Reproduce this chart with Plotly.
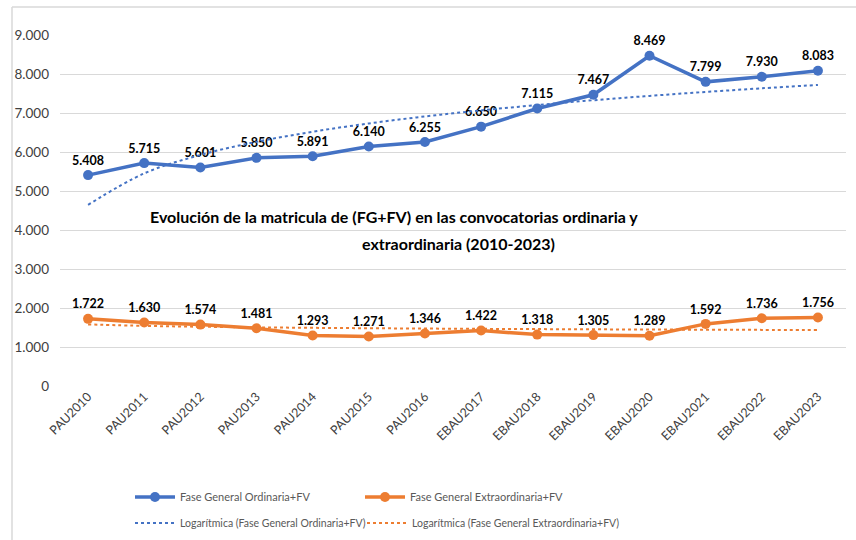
import numpy as np
import plotly.graph_objects as go

categories = ["PAU2010", "PAU2011", "PAU2012", "PAU2013", "PAU2014", "PAU2015", "PAU2016",
              "EBAU2017", "EBAU2018", "EBAU2019", "EBAU2020", "EBAU2021", "EBAU2022", "EBAU2023"]
ordinaria = [5408, 5715, 5601, 5850, 5891, 6140, 6255, 6650, 7115, 7467, 8469, 7799, 7930, 8083]
extraordinaria = [1722, 1630, 1574, 1481, 1293, 1271, 1346, 1422, 1318, 1305, 1289, 1592, 1736, 1756]
y_ticks = [0, 1000, 2000, 3000, 4000, 5000, 6000, 7000, 8000, 9000]
y_tick_labels = ["0", "1.000", "2.000", "3.000", "4.000", "5.000", "6.000", "7.000", "8.000", "9.000"]

name_ord = "Fase General Ordinaria+FV"
name_ext = "Fase General Extraordinaria+FV"

BLUE = "#4472C4"
ORANGE = "#ED7D31"
FONT = "Lato"

# plot area geometry (pixels)
PL, PR, PT, PB = 60, 846, 35, 386
PW, PH = PR - PL, PB - PT


def px_x(p):
    return (p - PL) / PW


def px_y(p):
    return (PB - p) / PH


def fmt(v):
    return f"{v:,}".replace(",", ".")


def log_trend(values):
    # Excel "Logarítmica" trendline: least squares fit of y = a + b*ln(x), x = 1..n
    x = np.arange(1, len(values) + 1)
    b, a = np.polyfit(np.log(x), np.array(values, dtype=float), 1)
    return list(a + b * np.log(x))


fig = go.Figure()

fig.add_trace(go.Scatter(
    x=categories, y=ordinaria, name=name_ord, mode="lines+markers+text",
    line=dict(color=BLUE, width=3.5), marker=dict(size=10, color=BLUE),
    text=[fmt(v) for v in ordinaria], textposition="top center",
    textfont=dict(family=FONT, size=12.5, color="#000000", weight="bold"),
    legend="legend",
))
fig.add_trace(go.Scatter(
    x=categories, y=extraordinaria, name=name_ext, mode="lines+markers+text",
    line=dict(color=ORANGE, width=3.5), marker=dict(size=10, color=ORANGE),
    text=[fmt(v) for v in extraordinaria], textposition="top center",
    textfont=dict(family=FONT, size=12.5, color="#000000", weight="bold"),
    legend="legend2",
))
fig.add_trace(go.Scatter(
    x=categories, y=log_trend(ordinaria), name="Logarítmica (" + name_ord + ")",
    mode="lines", line=dict(color=BLUE, width=2, dash="dot", shape="spline"),
    legend="legend3",
))
fig.add_trace(go.Scatter(
    x=categories, y=log_trend(extraordinaria), name="Logarítmica (" + name_ext + ")",
    mode="lines", line=dict(color=ORANGE, width=2, dash="dot", shape="spline"),
    legend="legend4",
))

# chart frame (left and top edge visible in the reference)
fig.add_shape(type="line", xref="paper", yref="paper", x0=px_x(12), x1=px_x(12), y0=px_y(560), y1=px_y(7),
              line=dict(color="#D9D9D9", width=1.5))
fig.add_shape(type="line", xref="paper", yref="paper", x0=px_x(12), x1=px_x(870), y0=px_y(7),
              y1=px_y(7), line=dict(color="#D9D9D9", width=1.5))

title_font = dict(family=FONT, size=16, color="#000000", weight="bold")
fig.add_annotation(text="Evolución de la matricula de (FG+FV) en las convocatorias ordinaria y",
                   xref="paper", yref="paper", x=px_x(394), y=px_y(216),
                   showarrow=False, font=title_font, xanchor="center", yanchor="middle")
fig.add_annotation(text="extraordinaria (2010-2023)",
                   xref="paper", yref="paper", x=px_x(458), y=px_y(243),
                   showarrow=False, font=title_font, xanchor="center", yanchor="middle")

legend_common = dict(orientation="h", xref="paper", yref="paper", xanchor="left", yanchor="middle",
                     bgcolor="rgba(0,0,0,0)", itemwidth=40)
main_font = dict(family=FONT, size=11, color="#595959")
trend_font = dict(family=FONT, size=10.5, color="#595959")
fig.update_layout(
    width=856, height=540,
    margin=dict(l=PL, r=856 - PR, t=PT, b=540 - PB, autoexpand=False),
    paper_bgcolor="#FFFFFF", plot_bgcolor="#FFFFFF",
    showlegend=True,
    legend=dict(x=px_x(130), y=px_y(497), font=main_font, **legend_common),
    legend2=dict(x=px_x(360), y=px_y(497), font=main_font, **legend_common),
    legend3=dict(x=px_x(130), y=px_y(523), font=trend_font, **legend_common),
    legend4=dict(x=px_x(362), y=px_y(523), font=trend_font, **legend_common),
    xaxis=dict(type="category", range=[-0.5, 13.5], tickangle=-45, automargin=False,
               tickfont=dict(family=FONT, size=12.5, color="#404040"),
               showgrid=False, showline=False, ticks="", zeroline=False),
    yaxis=dict(range=[0, 9000], tickvals=y_ticks, ticktext=y_tick_labels, automargin=False,
               tickfont=dict(family=FONT, size=13.5, color="#404040"),
               showgrid=True, gridcolor="#D9D9D9", gridwidth=1, zeroline=False,
               showline=False, ticks="", ticklabelstandoff=10),
)

fig.write_html("out.html", config={"displayModeBar": False},
               post_script="document.body.style.margin='0';document.body.style.overflow='hidden';"
                           "document.documentElement.style.overflow='hidden';")
